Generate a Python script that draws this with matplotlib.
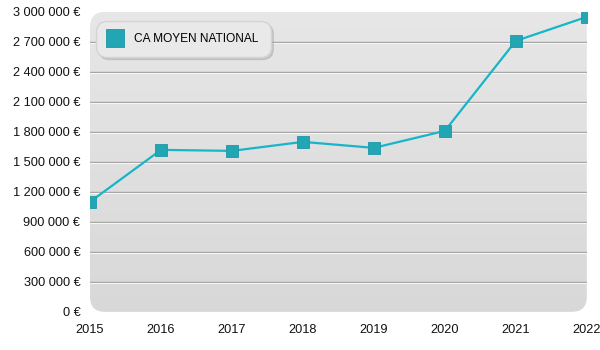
import matplotlib
matplotlib.use("Agg")
import matplotlib.pyplot as plt
import numpy as np
from matplotlib.patches import FancyBboxPatch
from matplotlib.ticker import FuncFormatter

plt.rcParams['font.family'] = ['Liberation Sans', 'DejaVu Sans']

years = [2015, 2016, 2017, 2018, 2019, 2020, 2021, 2022]
ca_moyen = [1100000, 1620000, 1610000, 1700000, 1640000, 1810000, 2710000, 2950000]
y_ticks = list(range(0, 3000001, 300000))

line_col = '#17b5c8'
mark_col = '#22a6b4'

fig = plt.figure(figsize=(6, 3.5), dpi=100)
ax = fig.add_axes([0.15, 0.109, 0.828, 0.857])
ax.set_facecolor('none')
ax.set_xlim(years[0], years[-1])
ax.set_ylim(0, 3000000)

# rounded grey panel with a soft vertical gradient
panel = FancyBboxPatch((0, 0), 1, 1, boxstyle="round,pad=0,rounding_size=0.03",
                       transform=ax.transAxes, facecolor='none', edgecolor='none',
                       mutation_aspect=1.7)
ax.add_patch(panel)
grad = np.linspace(0.905, 0.848, 256).reshape(-1, 1)
img = ax.imshow(np.dstack([grad, grad, grad]), extent=[0, 1, 0, 1], aspect='auto',
                transform=ax.transAxes, zorder=0, interpolation='bicubic')
img.set_clip_path(panel)

# grid lines: grey line with a white highlight just below
for v in y_ticks[1:-1]:
    ax.axhline(v, color='#a3a3a3', lw=1.0, zorder=1)
    ax.axhline(v - 9000, color='#f6f6f6', lw=0.8, zorder=1)

ax.plot(years, ca_moyen, color=line_col, lw=1.6, zorder=3,
        marker='s', markersize=8, markerfacecolor=mark_col,
        markeredgecolor='#1c98a6', markeredgewidth=0.6, label='CA MOYEN NATIONAL')

for s in ax.spines.values():
    s.set_visible(False)
ax.set_xticks(years)
ax.set_yticks(y_ticks)
ax.yaxis.set_major_formatter(FuncFormatter(
    lambda v, p: '{:,.0f} €'.format(v).replace(',', ' ')))
ax.tick_params(length=0, labelsize=9.2, colors='#111111')
ax.tick_params(axis='x', pad=9)
ax.tick_params(axis='y', pad=7)

leg = ax.legend(loc='upper left', bbox_to_anchor=(0.0, 0.99), fontsize=8.6,
                frameon=True, fancybox=True, framealpha=1,
                shadow={'color': '#9a9a9a', 'alpha': 0.35},
                markerscale=1.7, handlelength=1.2, borderpad=1.0, handletextpad=1.0)
frame = leg.get_frame()
frame.set_facecolor('#e9e9e9')
frame.set_edgecolor('#d4d4d4')
frame.set_boxstyle('round,pad=0,rounding_size=0.9')
for h in leg.get_lines():
    h.set_linestyle('none')

fig.savefig('out.png', dpi=100)
